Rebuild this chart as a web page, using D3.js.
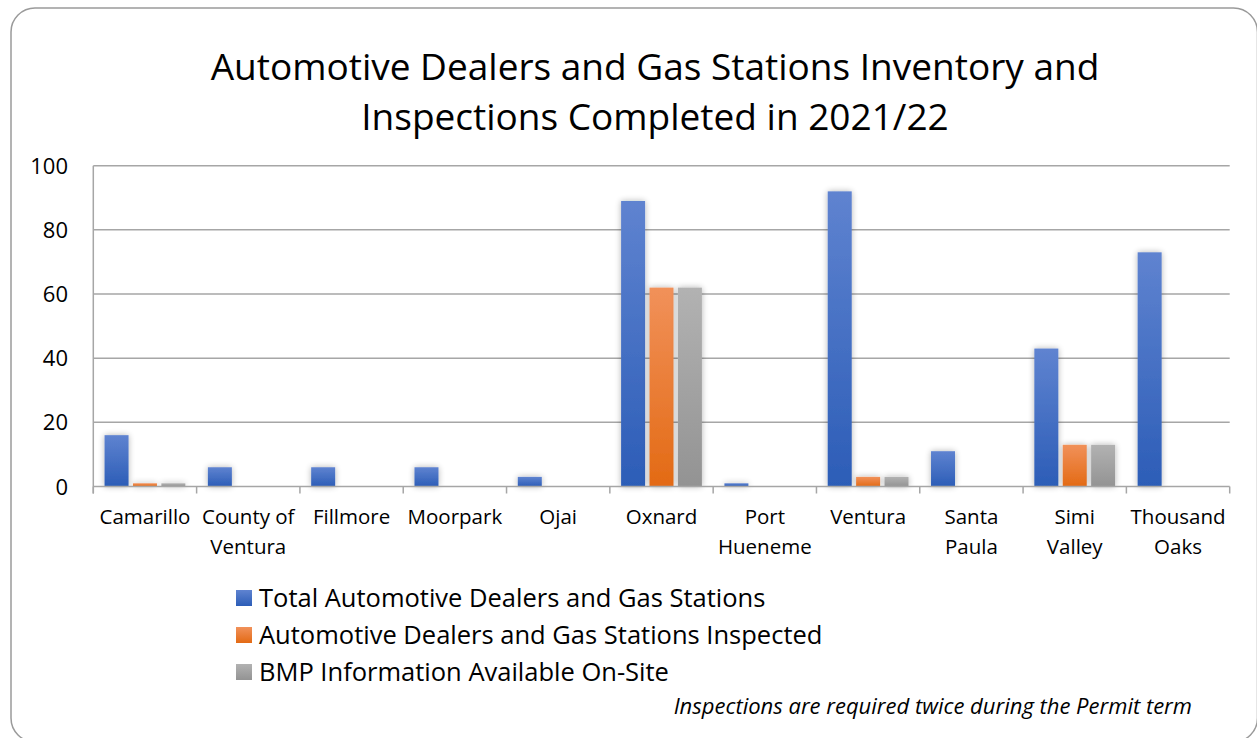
<!DOCTYPE html>
<html><head><meta charset="utf-8">
<script src="https://cdn.jsdelivr.net/npm/d3@7"></script>
<style>
html,body{margin:0;padding:0;background:#fff;}
svg{display:block;font-family:"Open Sans",sans-serif;}
</style></head>
<body>
<svg id="chart" width="1257" height="738"></svg>
<script>
const categories = [["Camarillo"],["County of","Ventura"],["Fillmore"],["Moorpark"],["Ojai"],["Oxnard"],["Port","Hueneme"],["Ventura"],["Santa","Paula"],["Simi","Valley"],["Thousand","Oaks"]];
const seriesNames = ["Total Automotive Dealers and Gas Stations","Automotive Dealers and Gas Stations Inspected","BMP Information Available On-Site"];
const totalValues = [16,6,6,6,3,89,1,92,11,43,73];
const inspectedValues = [1,0,0,0,0,62,0,3,0,13,0];
const bmpValues = [1,0,0,0,0,62,0,3,0,13,0];
const yTicks = [0,20,40,60,80,100];
const titleLines = ["Automotive Dealers and Gas Stations Inventory and","Inspections Completed in 2021/22"];
const footnote = "Inspections are required twice during the Permit term";

const seriesValues = [totalValues, inspectedValues, bmpValues];
const gradStops = [["#5f83d0","#2c5db7"],["#f1915a","#e36a14"],["#b2b2b2","#939393"]];

const svg = d3.select("#chart");
const defs = svg.append("defs");
gradStops.forEach((g,i)=>{
  const lg = defs.append("linearGradient").attr("id","g"+i).attr("x1",0).attr("y1",0).attr("x2",0).attr("y2",1);
  lg.append("stop").attr("offset","0%").attr("stop-color",g[0]);
  lg.append("stop").attr("offset","100%").attr("stop-color",g[1]);
});
const f = defs.append("filter").attr("id","shadow").attr("x","-50%").attr("y","-20%").attr("width","200%").attr("height","140%");
f.append("feGaussianBlur").attr("in","SourceAlpha").attr("stdDeviation",3).attr("result","b");
f.append("feComponentTransfer").attr("in","b").attr("result","s")
  .append("feFuncA").attr("type","linear").attr("slope",0.3);
const m = f.append("feMerge");
m.append("feMergeNode").attr("in","s");
m.append("feMergeNode").attr("in","SourceGraphic");

// border
svg.append("rect").attr("x",11).attr("y",8).attr("width",1246.5).attr("height",734)
  .attr("rx",24).attr("ry",24).attr("fill","#fff").attr("stroke","#9a9a9a").attr("stroke-width",1.5);

const plot = {left:93.3, right:1229.7, top:165.7, bottom:486.5};
const x = d3.scaleBand().domain(d3.range(categories.length)).range([plot.left, plot.right]).paddingInner(0).paddingOuter(0);
const y = d3.scaleLinear().domain([0,100]).range([plot.bottom, plot.top]);

// gridlines
svg.append("g").selectAll("line").data(yTicks.filter(d=>d>0)).join("line")
  .attr("x1",plot.left).attr("x2",plot.right)
  .attr("y1",d=>y(d)).attr("y2",d=>y(d))
  .attr("stroke","#a6a6a6").attr("stroke-width",1.5);

// y labels
svg.append("g").selectAll("text").data(yTicks).join("text")
  .attr("x",68).attr("y",d=>y(d)+8).attr("text-anchor","end")
  .attr("font-size",22).attr("fill","#000").text(d=>d);

// bars
const bw = 24, step = 28.4;
const groupW = step*2 + bw;
seriesValues.forEach((vals,si)=>{
  svg.append("g").attr("filter","url(#shadow)").selectAll("rect").data(vals.map((v,i)=>({v,i})).filter(d=>d.v>0)).join("rect")
    .attr("x",d=>x(d.i)+(x.bandwidth()-groupW)/2 + si*step)
    .attr("y",d=>y(d.v)).attr("width",bw).attr("height",d=>y(0)-y(d.v))
    .attr("fill","url(#g"+si+")");
});

// axes lines
svg.append("line").attr("x1",plot.left).attr("x2",plot.left).attr("y1",plot.top).attr("y2",plot.bottom+7)
  .attr("stroke","#a6a6a6").attr("stroke-width",1.5);
svg.append("line").attr("x1",plot.left).attr("x2",plot.right).attr("y1",plot.bottom).attr("y2",plot.bottom)
  .attr("stroke","#a6a6a6").attr("stroke-width",1.5);
svg.append("g").selectAll("line").data(d3.range(categories.length+1)).join("line")
  .attr("x1",i=>plot.left+i*x.step()).attr("x2",i=>plot.left+i*x.step())
  .attr("y1",plot.bottom).attr("y2",plot.bottom+7)
  .attr("stroke","#a6a6a6").attr("stroke-width",1.5);

// category labels
const cl = svg.append("g").selectAll("text").data(categories).join("text")
  .attr("text-anchor","middle").attr("font-size",20.5).attr("fill","#000")
  .attr("transform",(d,i)=>`translate(${x(i)+x.bandwidth()/2},524)`);
cl.selectAll("tspan").data(d=>d).join("tspan").attr("x",0).attr("y",(d,j)=>j*30).text(d=>d);

// title
svg.append("g").selectAll("text").data(titleLines).join("text")
  .attr("x",655).attr("y",(d,i)=>80+i*50).attr("text-anchor","middle")
  .attr("font-size",37).attr("fill","#000").text(d=>d);

// legend
const lg = svg.append("g").selectAll("g").data(seriesNames).join("g")
  .attr("transform",(d,i)=>`translate(236,${598+i*37})`);
lg.append("rect").attr("x",0).attr("y",-8).attr("width",16).attr("height",16)
  .attr("fill",(d,i)=>"url(#g"+i+")");
lg.append("text").attr("x",23).attr("y",9).attr("font-size",25.5).attr("fill","#000").text(d=>d);

// footnote
svg.append("text").attr("x",1192).attr("y",714).attr("text-anchor","end")
  .attr("font-size",22).attr("font-style","italic").attr("fill","#000").text(footnote);
</script>
</body></html>
